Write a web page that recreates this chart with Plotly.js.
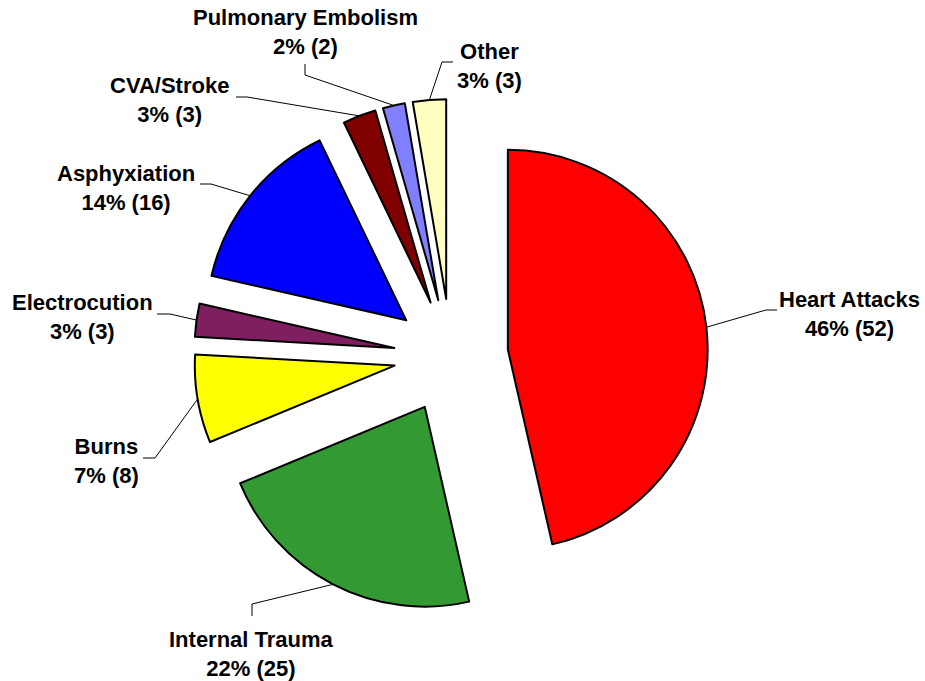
<!DOCTYPE html>
<html><head><meta charset="utf-8">
<script src="https://cdn.plot.ly/plotly-3.0.1.min.js"></script>
<style>html,body{margin:0;padding:0;background:#fff;}</style>
</head><body>
<div id="chart" style="width:925px;height:681px;"></div>
<script>
// ---- data ----
const categories = ["Heart Attacks", "Internal Trauma", "Burns", "Electrocution", "Asphyxiation", "CVA/Stroke", "Pulmonary Embolism", "Other"];
const counts = [52, 25, 8, 3, 16, 3, 2, 3];
const sliceColors = ["#FF0000", "#339933", "#FFFF00", "#7F1F5F", "#0000FF", "#800000", "#8080FF", "#FFFFC0"];

// ---- layout constants (pixels) ----
const W = 925, H = 681;
const pieCX = 451, pieCY = 356, pieExtent = 257, pullFrac = 0.2864;
// label centre, leader elbow, leader end (text side)
const labelPos = [
  {t: [849, 314], e: [766, 310], s: [777, 310]},
  {t: [251, 654], e: [252, 604], s: [252, 616]},
  {t: [106, 461], e: [155, 458], s: [143, 458]},
  {t: [82, 317],  e: [170, 314], s: [157, 314]},
  {t: [126, 188], e: [211, 184], s: [200, 184]},
  {t: [169, 100], e: [247, 97],  s: [236, 97]},
  {t: [305, 32],  e: [305, 75],  s: [305, 64]},
  {t: [489, 66],  e: [442, 62],  s: [453, 62]}
];

const px = x => x / W;
const py = y => 1 - y / H;

const total = counts.reduce((a, b) => a + b, 0);
const annotations = [], shapes = [];
let cum = 0;
counts.forEach((v, i) => {
  const mid = (cum + v / 2) / total * 2 * Math.PI; // clockwise from 12 o'clock
  cum += v;
  const ax = pieCX + pieExtent * Math.sin(mid);
  const ay = pieCY - pieExtent * Math.cos(mid);
  const L = labelPos[i];
  shapes.push({
    type: 'path', xref: 'paper', yref: 'paper',
    path: `M${px(ax)},${py(ay)} L${px(L.e[0])},${py(L.e[1])} L${px(L.s[0])},${py(L.s[1])}`,
    line: {color: '#000', width: 1}
  });
  const pct = Math.round(v / total * 100);
  annotations.push({
    xref: 'paper', yref: 'paper', x: px(L.t[0]), y: py(L.t[1]),
    xanchor: 'center', yanchor: 'middle', showarrow: false, align: 'center',
    text: `<b>${categories[i]}<br>${pct}% (${v})</b>`,
    font: {family: 'Liberation Sans, Arial, sans-serif', size: 22, color: '#000'}
  });
});

const trace = {
  type: 'pie',
  labels: categories,
  values: counts,
  sort: false,
  direction: 'clockwise',
  rotation: 0,
  pull: counts.map(() => pullFrac),
  marker: {colors: sliceColors, line: {color: '#000', width: 2}},
  textinfo: 'none',
  hoverinfo: 'label+value+percent',
  domain: {
    x: [px(pieCX - 300), px(pieCX + 300)],
    y: [py(pieCY + pieExtent), py(pieCY - pieExtent)]
  }
};

Plotly.newPlot('chart', [trace], {
  width: W, height: H,
  margin: {l: 0, r: 0, t: 0, b: 0},
  paper_bgcolor: '#fff', plot_bgcolor: '#fff',
  showlegend: false,
  annotations: annotations,
  shapes: shapes
}, {displayModeBar: false, staticPlot: true});
</script>
</body></html>
